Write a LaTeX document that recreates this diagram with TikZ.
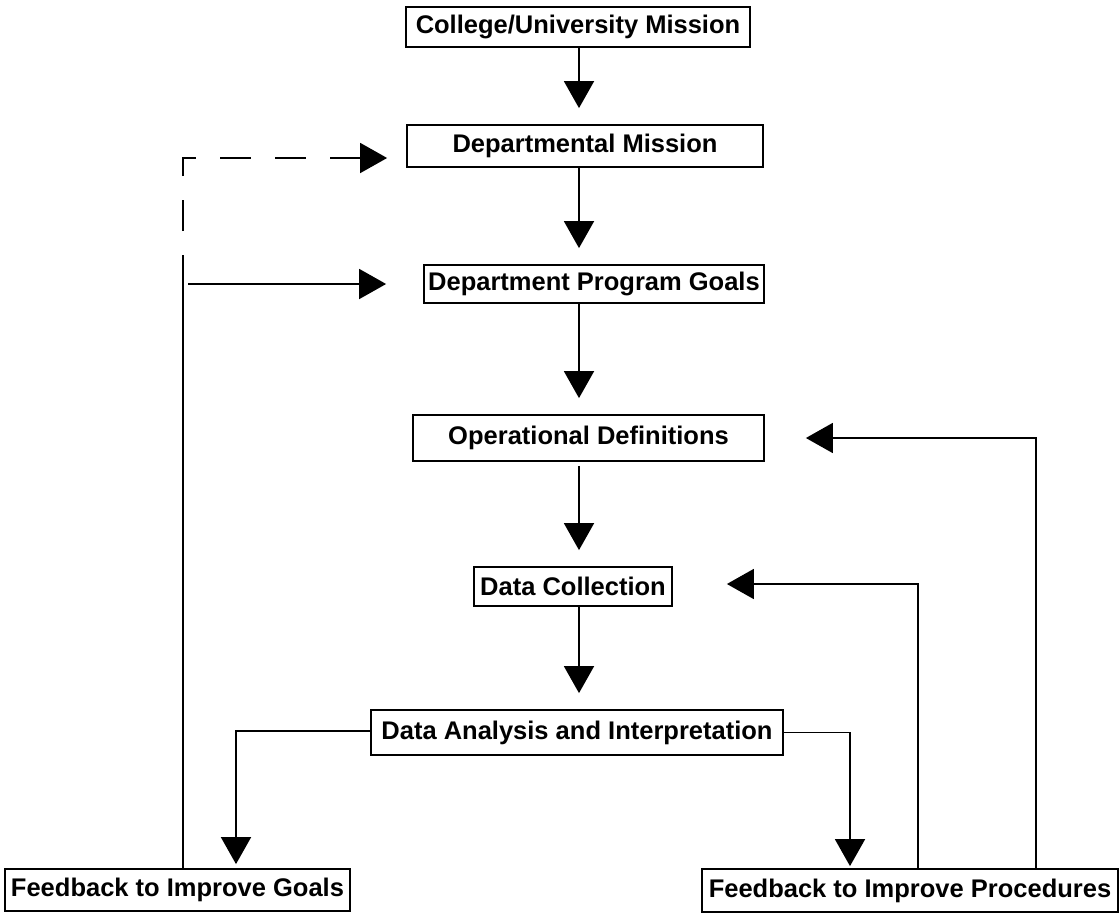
\documentclass[tikz,border=0pt]{standalone}
\usepackage{fontspec}
\setmainfont{Liberation Sans}
\usetikzlibrary{arrows.meta,calc}
\begin{document}
\begin{tikzpicture}[x=1pt,y=-1pt,
  box/.style={draw,line width=1.8pt,inner sep=0pt,font=\bfseries\fontsize{25.5}{30}\selectfont},
  arr/.style={line width=1.8pt,-{Triangle[width=30pt,length=27pt]}},
  downarr/.style={arr,shorten >=16pt}]
\useasboundingbox (0,0) rectangle (1120,913);
\node[box,minimum width=344pt,minimum height=40pt] (cu) at (578,27) {College/University Mission};
\node[box,minimum width=356pt,minimum height=42pt] (dm) at (585,146) {Departmental Mission\hspace{12pt}};
\node[box,minimum width=340pt,minimum height=38pt] (pg) at (594,284) {Department Program Goals};
\node[box,minimum width=351pt,minimum height=46pt] (od) at (588.5,438) {Operational Definitions};
\node[box,minimum width=198pt,minimum height=39pt] (dc) at (573,586.5) {Data Collection};
\node[box,minimum width=412pt,minimum height=45pt] (da) at (577,732.5) {Data Analysis and Interpretation};
\node[box,minimum width=345pt,minimum height=42pt] (fg) at (177.5,890) {Feedback to Improve Goals};
\node[box,minimum width=416pt,minimum height=43pt] (fp) at (910,890.5) {Feedback to Improve Procedures};
\coordinate (ax) at (579,0);
\coordinate (xl) at (183,0);
\coordinate (xg) at (236,0);
\coordinate (xp) at (850,0);
\coordinate (xd) at (918,0);
\coordinate (xo) at (1036,0);
\coordinate (jg) at (183,255);
\coordinate (hs) at (188,284);
\coordinate (dmin) at ($(dm.west)+(0,12)$);
% main chain
\draw[downarr] (cu.south -| ax) -- (dm.north -| ax);
\draw[downarr] (dm.south -| ax) -- (pg.north -| ax);
\draw[downarr] (pg.south -| ax) -- (od.north -| ax);
\draw[downarr] ($(od.south -| ax)+(0,4)$) -- (dc.north -| ax);
\draw[downarr] (dc.south -| ax) -- (da.north -| ax);
% analysis to feedback
\draw[arr,shorten >=4pt] ($(da.west)+(0,-1.5)$) -| (fg.north -| xg);
\draw[arr,shorten >=2pt] (da.east) -| (fp.north -| xp);
% feedback to procedures
\draw[arr,shorten >=54pt] (fp.north -| xd) |- ($(dc.east)+(0,-2.5)$);
\draw[arr,shorten >=41pt] (fp.north -| xo) |- (od.east);
% feedback to goals
\draw[line width=1.8pt] (fg.north -| xl) -- (jg);
\draw[arr,shorten >=37pt] (hs) -- (hs -| pg.west);
\draw[arr,dash pattern=on 31pt off 24pt,dash phase=31pt,shorten >=19pt] (jg) |- (dmin);
\end{tikzpicture}
\end{document}
